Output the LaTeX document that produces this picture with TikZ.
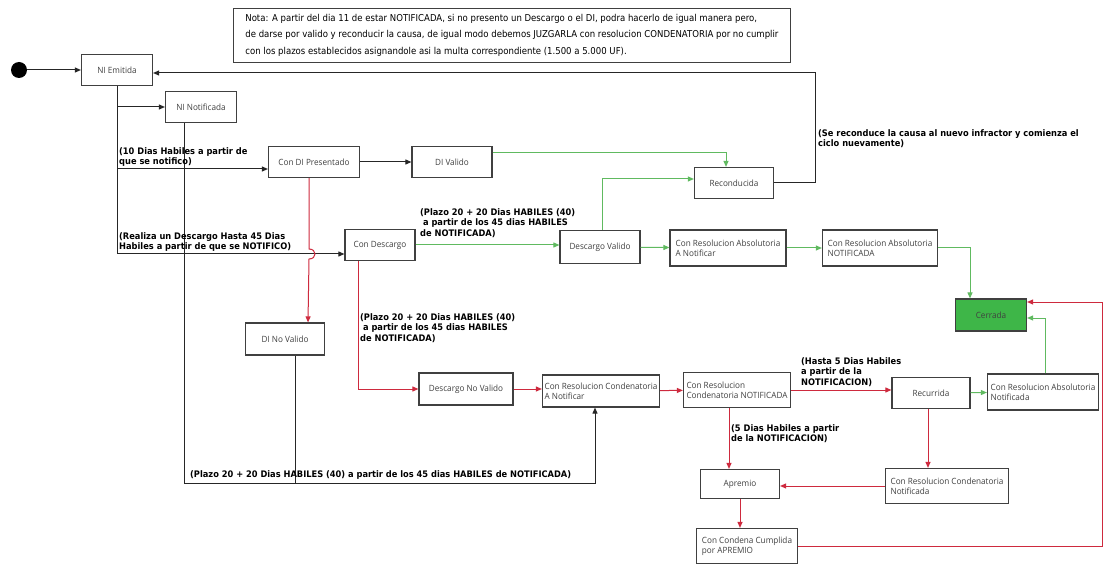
\documentclass[tikz,border=0pt]{standalone}
\usepackage{fontspec}
\setmainfont{DejaVu Sans}
\newfontfamily\notefont[FakeStretch=0.9]{DejaVu Sans}
\newfontfamily\lblfont[FakeStretch=0.92]{DejaVu Sans}
\newfontfamily\boxfont[FakeStretch=0.95]{Open Sans}
\usepackage{tikz}
\usetikzlibrary{arrows.meta}
\usepackage{xcolor}
\definecolor{okgreen}{RGB}{96,186,96}
\definecolor{badred}{RGB}{206,42,62}
\definecolor{closedfill}{RGB}{62,182,72}

\begin{document}
\begin{tikzpicture}[x=1pt, y=-1pt,
        state/.style = {draw = black!75, line width = 1.2pt, inner sep = 2pt,
                        font = \boxfont\fontsize{8.6}{10}\selectfont, text = black!75},
        lbl/.style = {inner sep = 0pt, align = left,
                      font = \lblfont\bfseries\fontsize{9}{10.8}\selectfont},
        flow/.style = {draw = black!85, line width = 1pt, -{Triangle[length=6pt, width=5pt]}},
        line/.style = {draw = black!85, line width = 1pt},
        ok/.style = {draw = okgreen, line width = 1pt, -{Triangle[length=6pt, width=5pt]}},
        bad/.style = {draw = badred, line width = 1pt, -{Triangle[length=6pt, width=5pt]}}]
        \fill[white] (0,0) rectangle (1106,564);
        \useasboundingbox (0,0) rectangle (1106,564);

        % nota
        \node[draw = black!75, line width = 0.8pt, anchor = west, minimum width = 557pt,
              minimum height = 54pt, inner sep = 5pt, align = left,
              font = \notefont\fontsize{9.5}{16.5}\selectfont] (nota) at (233,35)
              {Nota: A partir del dia 11 de estar NOTIFICADA, si no presento un Descargo o el DI, podra hacerlo de igual manera pero,\\
               de darse por valido y reconducir la causa, de igual modo debemos JUZGARLA con resolucion CONDENATORIA por no cumplir\\
               con los plazos establecidos asignandole asi la multa correspondiente (1.500 a 5.000 UF).};

        % estados
        \node[circle, fill = black, minimum size = 16pt, inner sep = 0pt] (inicio) at (19,70) {};
        \node[state, minimum width = 71pt, minimum height = 31pt] (emitida) at (117,70) {NI Emitida};
        \node[state, minimum width = 71pt, minimum height = 31pt] (notificada) at (201,107) {NI Notificada};
        \node[state, minimum width = 91pt, minimum height = 31pt] (presentado) at (314,162) {Con DI Presentado};
        \node[state, minimum width = 80pt, minimum height = 31pt] (divalido) at (452,162) {DI Valido};
        \node[state, minimum width = 79pt, minimum height = 31pt] (reconducida) at (734,183) {Reconducida};
        \node[state, minimum width = 70pt, minimum height = 31pt] (descargo) at (380,245) {Con Descargo};
        \node[state, minimum width = 80pt, minimum height = 33pt] (dvalido) at (600,247) {Descargo Valido};
        \node[state, minimum width = 116pt, minimum height = 36pt, align = left] (absanot) at (728,248)
              {Con Resolucion Absolutoria\\A Notificar};
        \node[state, minimum width = 115pt, minimum height = 36pt, align = left] (absnotif) at (880,248)
              {Con Resolucion Absolutoria\\NOTIFICADA};
        \node[state, fill = closedfill, minimum width = 71pt, minimum height = 32pt] (cerrada) at (991,315) {Cerrada};
        \node[state, minimum width = 79pt, minimum height = 32pt] (dinovalido) at (285,339) {DI No Valido};
        \node[state, minimum width = 94pt, minimum height = 32pt] (dnovalido) at (466,389) {Descargo No Valido};
        \node[state, minimum width = 117pt, minimum height = 32pt, align = left] (condanot) at (601,391)
              {Con Resolucion Condenatoria\\A Notificar};
        \node[state, minimum width = 107pt, minimum height = 35pt, align = left] (condnotif) at (737,390)
              {Con Resolucion\\Condenatoria NOTIFICADA};
        \node[state, minimum width = 78pt, minimum height = 31pt] (recurrida) at (931,393) {Recurrida};
        \node[state, minimum width = 111pt, minimum height = 36pt, align = left] (absnotifb) at (1043,392)
              {Con Resolucion Absolutoria\\Notificada};
        \node[state, minimum width = 123pt, minimum height = 35pt, align = left] (condnotifb) at (947,486)
              {Con Resolucion Condenatoria\\Notificada};
        \node[state, minimum width = 79pt, minimum height = 29pt] (apremio) at (740,484) {Apremio};
        \node[state, minimum width = 101pt, minimum height = 35pt, align = left] (cumplida) at (747,546)
              {Con Condena Cumplida\\por APREMIO};

        % puntos de paso
        \coordinate (inPres) at ([yshift=-7pt]presentado.west);
        \coordinate (inDesc) at ([yshift=-9pt]descargo.west);
        \coordinate (plazoBase) at (184,483);
        \coordinate (backTop) at (815,73);
        \coordinate (hop) at (309,254);
        \coordinate (rightTop) at (1102,302);

        % flujo negro
        \draw[flow] (inicio.east) -- (emitida.west);
        \draw[flow] (emitida.south) |- (inDesc);
        \draw[flow] (emitida.south |- notificada.west) -- (notificada.west);
        \draw[flow] (emitida.south |- inPres) -- (inPres);
        \draw[flow] (notificada.south -| plazoBase) -- (plazoBase) -| ([xshift=-6pt]condanot.south);
        \draw[line] ([xshift=10pt]dinovalido.south) -- ([xshift=10pt]dinovalido.south |- plazoBase);
        \draw[flow] (presentado) -- (divalido);
        \draw[flow] (reconducida.east) -| (backTop) -- (emitida.east |- backTop);

        % flujo verde
        \draw[ok] ([yshift=9pt]divalido.east) -| ([xshift=-8pt]reconducida.north);
        \draw[ok] (descargo.east) -- (descargo.east -| dvalido.west);
        \draw[ok] ([xshift=2pt]dvalido.north) |- ([yshift=4pt]reconducida.west);
        \draw[ok] (dvalido) -- (absanot);
        \draw[ok] (absanot) -- (absnotif);
        \draw[ok] (absnotif.east) -| ([xshift=-21pt]cerrada.north);
        \draw[ok] (recurrida) -- (absnotifb);
        \draw[ok] ([xshift=2pt]absnotifb.north) |- ([yshift=-3pt]cerrada.east);

        % flujo rojo
        \draw[bad] ([xshift=-5pt]presentado.south) -- ([yshift=5pt]hop)
              .. controls +(8,0) and +(8,0) .. ([yshift=-5pt]hop)
              -- ([xshift=23pt]dinovalido.north);
        \draw[bad] ([xshift=-22pt]descargo.south) |- (dnovalido.west);
        \draw[bad] (dnovalido.east) -- (dnovalido.east -| condanot.west);
        \draw[bad] (condanot) -- (condnotif);
        \draw[bad] (condnotif.east) -- (condnotif.east -| recurrida.west);
        \draw[bad] ([xshift=-8pt]condnotif.south) -- ([xshift=-8pt]condnotif.south |- apremio.north);
        \draw[bad] ([xshift=-3pt]recurrida.south) -- ([xshift=-3pt]recurrida.south |- condnotifb.north);
        \draw[bad] (condnotifb.west) -- (condnotifb.west -| apremio.east);
        \draw[bad] (apremio.south) -- (apremio.south |- cumplida.north);
        \draw[bad] (cumplida.east) -| (rightTop) -- (cerrada.east |- rightTop);

        % textos de plazos
        \node[lbl, anchor = south west] (lblNotifico) at (119,167)
              {(10 Dias Habiles a partir de\\que se notifico)};
        \node[lbl, anchor = south west] (lblHasta) at (119,252)
              {(Realiza un Descargo Hasta 45 Dias\\Habiles a partir de que se NOTIFICO)};
        \node[lbl, anchor = south west] (lblValido) at (420,238)
              {(Plazo 20 + 20 Dias HABILES (40)\\\ a partir de los 45 dias HABILES\\de NOTIFICADA)};
        \node[lbl, anchor = north west] (lblNoValido) at (360,313)
              {(Plazo 20 + 20 Dias HABILES (40)\\\ a partir de los 45 dias HABILES\\de NOTIFICADA)};
        \node[lbl, anchor = north west] (lblRecon) at (818,129)
              {(Se reconduce la causa al nuevo infractor y comienza el\\ciclo nuevamente)};
        \node[lbl, anchor = south west] (lblRecurso) at (801,387)
              {(Hasta 5 Dias Habiles\\a partir de la\\NOTIFICACION)};
        \node[lbl, anchor = north west] (lblApremio) at (731,424)
              {(5 Dias Habiles a partir\\de la NOTIFICACION)};
        \node[lbl, anchor = south west] (lblBase) at (190,480)
              {(Plazo 20 + 20 Dias HABILES (40) a partir de los 45 dias HABILES de NOTIFICADA)};
    \end{tikzpicture}
\end{document}
